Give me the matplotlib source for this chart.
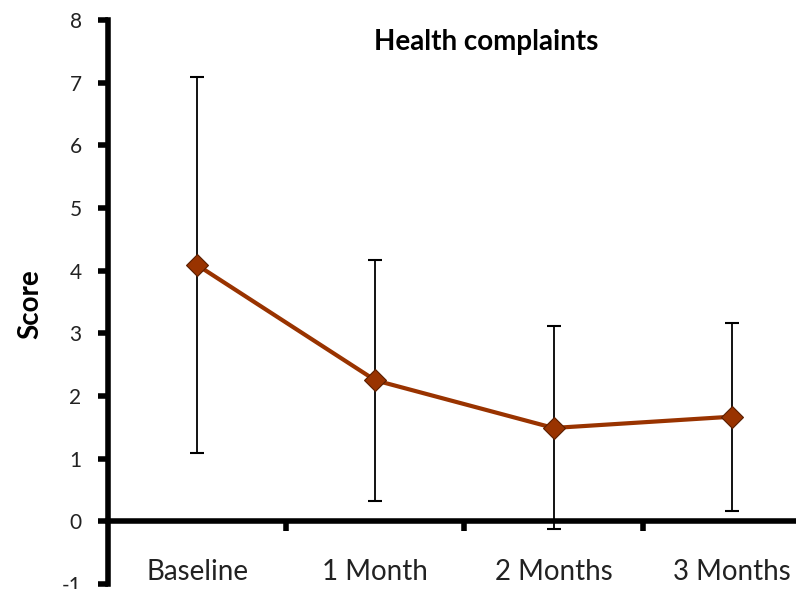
import numpy as np
import matplotlib
matplotlib.use("Agg")
import matplotlib.pyplot as plt

categories = ["Baseline", "1 Month", "2 Months", "3 Months"]
score = [4.09, 2.25, 1.49, 1.67]
err = [3.0, 1.92, 1.62, 1.5]
yticks = [-1, 0, 1, 2, 3, 4, 5, 6, 7, 8]

plt.rcParams['font.family'] = ['Lato', 'DejaVu Sans']

fig = plt.figure(figsize=(7.96, 5.89), dpi=100)
ax = fig.add_axes([108/796, 5/589, 1 - 108/796, 564/589])
x = np.arange(len(categories))

ax.errorbar(x, score, yerr=err, fmt='none', ecolor='black', elinewidth=1.3,
            capsize=5, capthick=1.5, zorder=2)
ax.plot(x, score, color='#993300', lw=3, marker='D', markersize=11,
        markerfacecolor='#993300', markeredgecolor='#5a1e00', markeredgewidth=0.8, zorder=3)

ax.set_xlim(-0.5, 3.36)
ax.set_ylim(-1.0, 8.0)
ax.set_yticks(yticks)
ax.set_yticklabels([str(v) for v in yticks], fontsize=15, color='#222222')

ax.spines['top'].set_visible(False)
ax.spines['right'].set_visible(False)
ax.spines['bottom'].set_position(('data', 0))
ax.spines['left'].set_linewidth(4)
ax.spines['bottom'].set_linewidth(4)

ax.set_xticks(x)
ax.set_xticklabels(categories, fontsize=20, color='#222222')
ax.set_xticks([0.5, 1.5, 2.5], minor=True)
ax.tick_params(axis='x', which='major', length=0, pad=27)
ax.tick_params(axis='x', which='minor', length=7, width=4, direction='out')
ax.tick_params(axis='y', length=7, width=4, direction='out', pad=12)
ax.set_clip_on(False)

fig.text(30/796, 1 - 304/589, "Score", rotation=90, fontsize=20, fontweight='bold',
         ha='center', va='center')
ax.text(0.549, 0.961, "Health complaints", transform=ax.transAxes, fontsize=20,
        fontweight='bold', ha='center', va='center')

fig.savefig("out.png", dpi=100)
